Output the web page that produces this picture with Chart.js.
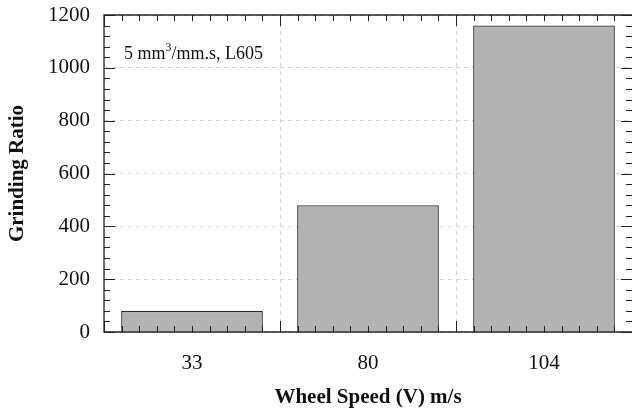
<!DOCTYPE html>
<html>
<head>
<meta charset="utf-8">
<script src="https://cdn.jsdelivr.net/npm/chart.js@4"></script>
<style>
  html, body { margin:0; padding:0; background:#fff; }
  #wrap { width:632px; height:414px; }
</style>
</head>
<body>
<div id="wrap"><canvas id="c"></canvas></div>
<script>
// ---- data ----
var speeds = ['33', '80', '104'];
var grindingRatio = [80, 480, 1160];
var yTicks = [0, 200, 400, 600, 800, 1000, 1200];
var noteMain = '5 mm';
var noteSup = '3';
var noteTail = '/mm.s, L605';

var SERIF = "'Liberation Serif', 'Times New Roman', serif";

// frame + inward ticks on all four sides, plus the note
var framePlugin = {
  id: 'frame',
  afterDatasetsDraw: function(chart) {
    var ctx = chart.ctx, a = chart.chartArea;
    var ys = chart.scales.y;
    ctx.save();
    ctx.strokeStyle = '#222';
    ctx.lineWidth = 1.3;
    // right edge of the frame sits just outside the picture
    ctx.beginPath();
    ctx.moveTo(a.right, a.top); ctx.lineTo(a.left, a.top);
    ctx.lineTo(a.left, a.bottom); ctx.lineTo(a.right, a.bottom);
    ctx.stroke();

    ctx.lineWidth = 1;
    ctx.beginPath();
    // y ticks: major every 200, minor every 40
    for (var v = 0; v <= 1200; v += 40) {
      var py = Math.round(ys.getPixelForValue(v)) + 0.5;
      var len = (v % 200 === 0) ? 11 : 6;
      ctx.moveTo(a.left, py); ctx.lineTo(a.left + len, py);
      ctx.moveTo(a.right, py); ctx.lineTo(a.right - len, py);
    }
    // x ticks: major at category boundaries, 10 minor per category
    var cw = (a.right - a.left) / speeds.length;
    for (var i = 0; i <= speeds.length * 10; i++) {
      var px = Math.round(a.left + i * cw / 10) + 0.5;
      var l = (i % 10 === 0) ? 11 : 6;
      ctx.moveTo(px, a.bottom); ctx.lineTo(px, a.bottom - l);
      ctx.moveTo(px, a.top); ctx.lineTo(px, a.top + l);
    }
    ctx.stroke();

    // note text
    ctx.fillStyle = '#111';
    ctx.textBaseline = 'alphabetic';
    ctx.font = '18px ' + SERIF;
    var x0 = a.left + 20, y0 = 59;
    ctx.fillText(noteMain, x0, y0);
    var w1 = ctx.measureText(noteMain).width;
    ctx.font = '12px ' + SERIF;
    ctx.fillText(noteSup, x0 + w1, y0 - 8);
    var w2 = ctx.measureText(noteSup).width;
    ctx.font = '18px ' + SERIF;
    ctx.fillText(noteTail, x0 + w1 + w2, y0);
    ctx.restore();
  }
};

new Chart(document.getElementById('c'), {
  type: 'bar',
  data: {
    labels: speeds,
    datasets: [{
      data: grindingRatio,
      backgroundColor: '#b3b3b3',
      borderColor: '#2a2a2a',
      borderWidth: 1.3,
      barPercentage: 0.805,
      categoryPercentage: 1
    }]
  },
  options: {
    responsive: true,
    maintainAspectRatio: false,
    animation: false,
    layout: { padding: { left: 0, right: 0, top: 15, bottom: 0 } },
    plugins: { legend: { display: false }, tooltip: { enabled: false } },
    scales: {
      x: {
        offset: true,
        afterFit: function(s) { s.height = 82; s.paddingLeft = 0; s.paddingRight = 0; },
        border: { display: false, dash: [4, 4] },
        grid: { offset: true, drawTicks: false, color: '#d2d2d2', lineWidth: 1 },
        ticks: { padding: 19, color: '#111', font: { family: SERIF, size: 21 } },
        title: {
          display: true, text: 'Wheel Speed (V) m/s', color: '#111',
          font: { family: SERIF, size: 21, weight: 'bold' },
          padding: { top: 0, bottom: 4 }
        }
      },
      y: {
        min: 0, max: 1200,
        afterFit: function(s) { s.width = 104; s.paddingTop = 0; s.paddingBottom = 0; },
        afterBuildTicks: function(s) { s.ticks = yTicks.map(function(v) { return { value: v }; }); },
        border: { display: false, dash: [4, 4] },
        grid: { drawTicks: false, color: '#d2d2d2', lineWidth: 1 },
        ticks: {
          padding: 14, color: '#111', font: { family: SERIF, size: 21 },
          callback: function(v) { return String(v); }
        },
        title: {
          display: true, text: 'Grinding Ratio', color: '#111',
          font: { family: SERIF, size: 21, weight: 'bold' },
          padding: { top: 5, bottom: 0 }
        }
      }
    }
  },
  plugins: [framePlugin]
});
</script>
</body>
</html>
